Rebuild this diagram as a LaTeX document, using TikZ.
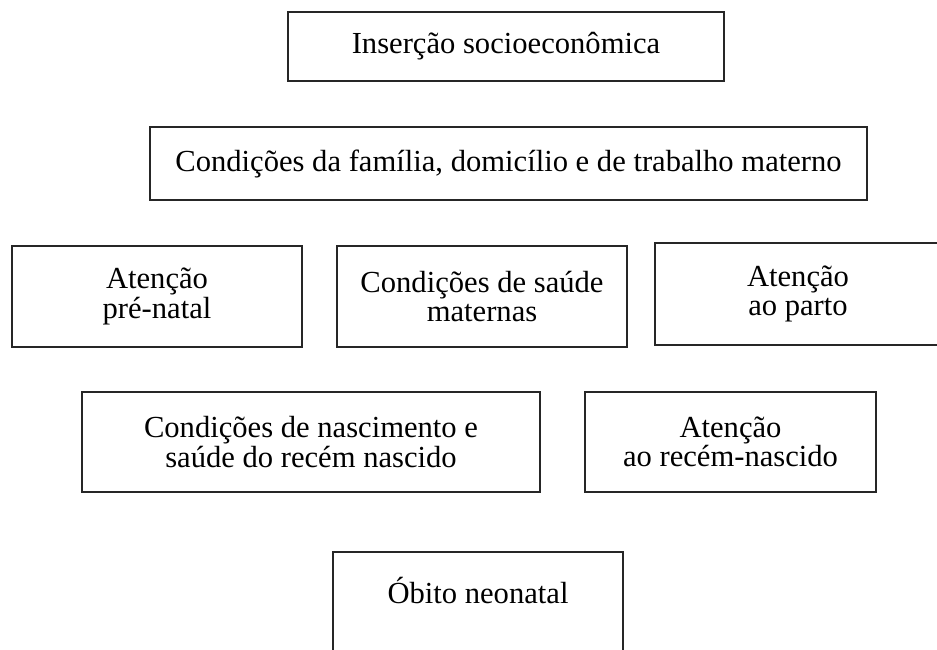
\documentclass[tikz,border=0pt]{standalone}
\usepackage{fontspec}
\setmainfont{Liberation Serif}
\begin{document}
\begin{tikzpicture}[x=1pt,y=-1pt,
  box/.style={draw=black!85, line width=1.8pt, rectangle, inner sep=0pt, align=center,
    font=\fontsize{30.6}{29.5}\selectfont},
  txt/.style={inner sep=0pt, align=center, font=\fontsize{30.6}{29.5}\selectfont}]
\useasboundingbox (0,0) rectangle (937,649);
\clip (0,0) rectangle (937,649);
\node[box, minimum width=436, minimum height=69] (ins) at (506,46.5) {Inserção socioeconômica};
\node[box, minimum width=717, minimum height=73] (fam) at (508.5,163.5) {Condições da família, domicílio e de trabalho materno};
\node[box, minimum width=290, minimum height=101] (pre) at (157,296.5) {Atenção\\pré-natal};
\node[box, minimum width=290, minimum height=101] (sau) at (482,296.5) {Condições de saúde\\maternas};
\node[box, minimum width=286, minimum height=102] (par) at (798,294) {Atenção\\ao parto};
\node[box, minimum width=458, minimum height=100] (nas) at (311,442) {Condições de nascimento e\\saúde do recém nascido};
\node[box, minimum width=291, minimum height=100] (rn) at (730.5,442) {Atenção\\ao recém-nascido};
\node[box, minimum width=290, minimum height=110] (obi) at (478,607) {};
\node[txt, anchor=base] (obit) at (478,603) {Óbito neonatal};
\end{tikzpicture}
\end{document}
